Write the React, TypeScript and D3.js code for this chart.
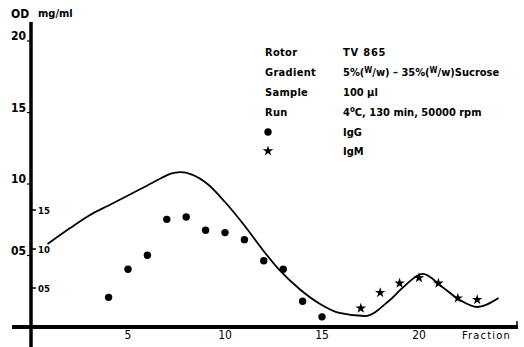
import React from 'react';
import * as d3 from 'd3';

// OD curve (fraction, OD)
const curveFractions = [0.85, 2.0, 3.0, 4.0, 5.0, 6.0, 6.7, 7.2, 7.7, 8.3, 9.1, 10, 10.9, 12.0, 12.8, 13.9, 14.9, 15.9, 17.2, 18.5, 19.2, 20.2, 21.2, 22.1, 23.0, 24.1];
const curveOD = [0.58, 0.69, 0.78, 0.85, 0.92, 0.99, 1.04, 1.072, 1.083, 1.066, 1.0, 0.874, 0.727, 0.53, 0.399, 0.259, 0.161, 0.098, 0.077, 0.189, 0.28, 0.371, 0.28, 0.189, 0.14, 0.203];

// IgG (dots), mg/ml
const iggFractions = [4, 5, 6, 7, 8, 9, 10, 11, 12, 13, 14, 15];
const iggValues = [0.038, 0.074, 0.092, 0.138, 0.141, 0.124, 0.121, 0.112, 0.085, 0.074, 0.033, 0.013];

// IgM (stars), mg/ml
const igmFractions = [17, 18, 19, 20, 21, 22, 23];
const igmValues = [0.024, 0.044, 0.056, 0.063, 0.056, 0.037, 0.035];

const xTicks = [5, 10, 15, 20];
const odTicks = [0.5, 1.0, 1.5, 2.0];
const odTickLabels = ['05', '10', '15', '20'];
const mgTicks = [0.05, 0.1, 0.15];
const mgTickLabels = ['05', '10', '15'];

const legendKeys = ['Rotor', 'Gradient', 'Sample', 'Run'];

const W = 524;
const H = 347;
const FONT = '"DejaVu Sans Condensed", "Liberation Sans Narrow", "DejaVu Sans", sans-serif';

export default function App() {
  const x = d3.scaleLinear().domain([0, 25]).range([31, 516]);
  const yOD = d3.scaleLinear().domain([0, 2]).range([327, 41]);
  const yMg = d3.scaleLinear().domain([0, 0.15]).range([327, 210]);

  const curvePts: [number, number][] = curveFractions.map((f, i) => [x(f), yOD(curveOD[i])]);
  const line = d3.line().curve(d3.curveMonotoneX);
  const star = d3.symbol().type(d3.symbolStar).size(34)();

  return (
    <svg width={W} height={H} style={{ position: 'absolute', left: 0, top: 0, background: '#fff' }}
      fontFamily={FONT}>
      {/* axes */}
      <line x1={12} x2={518} y1={327} y2={327} stroke="#000" strokeWidth={4} />
      <line x1={517} x2={517} y1={321} y2={327} stroke="#000" strokeWidth={1.5} />
      <line x1={31} x2={31} y1={22} y2={347} stroke="#000" strokeWidth={3.5} />

      {/* OD ticks (left) */}
      {odTicks.map((t, i) => (
        <g key={`od${t}`}>
          <line x1={27} x2={31} y1={yOD(t)} y2={yOD(t)} stroke="#000" strokeWidth={1.2} />
          <text x={26} y={yOD(t) - 1} textAnchor="end" fontSize={12} fontWeight="bold" fill="#000">
            {odTickLabels[i]}
          </text>
        </g>
      ))}
      {/* mg/ml ticks (right of axis) */}
      {mgTicks.map((t, i) => (
        <g key={`mg${t}`}>
          <line x1={31} x2={36} y1={yMg(t)} y2={yMg(t)} stroke="#000" strokeWidth={1.5} />
          <text x={38} y={yMg(t) + 3.5} fontSize={9.5} fontWeight="bold" fill="#000">
            {mgTickLabels[i]}
          </text>
        </g>
      ))}
      <text x={11} y={18} fontSize={12} fontWeight="bold" fill="#000">OD</text>
      <text x={38} y={17} fontSize={11} fontWeight="bold" fill="#000">mg/ml</text>

      {/* x tick labels */}
      {xTicks.map(t => (
        <text key={`x${t}`} x={x(t)} y={339} textAnchor="middle" fontSize={12} fill="#000">{t}</text>
      ))}
      <text x={462} y={339} fontSize={11} letterSpacing={1.2} fill="#000">Fraction</text>

      {/* OD curve */}
      <path d={line(curvePts) || ''} fill="none" stroke="#000" strokeWidth={1.8} />

      {/* IgG */}
      {iggFractions.map((f, i) => (
        <circle key={`g${f}`} cx={x(f)} cy={yMg(iggValues[i])} r={3.7} fill="#000" />
      ))}
      {/* IgM */}
      {igmFractions.map((f, i) => (
        <path key={`m${f}`} d={star || ''} transform={`translate(${x(f)},${yMg(igmValues[i])})`} fill="#000" />
      ))}

      {/* legend / run conditions */}
      {legendKeys.map((k, i) => (
        <text key={k} x={265} y={56 + i * 20} fontSize={11} fontWeight="bold" letterSpacing={0.3} fill="#000">{k}</text>
      ))}
      <text x={343} y={56} fontSize={11} fontWeight="bold" letterSpacing={0.8} fill="#000">TV 865</text>
      <text x={343} y={76} fontSize={11} fontWeight="bold" fill="#000">
        5%(<tspan fontSize={8} dy={-3}>W</tspan><tspan dy={3}>/w) – 35%(</tspan>
        <tspan fontSize={8} dy={-3}>W</tspan><tspan dy={3}>/w)Sucrose</tspan>
      </text>
      <text x={343} y={96} fontSize={11} fontWeight="bold" fill="#000">100 µl</text>
      <text x={343} y={116} fontSize={11} fontWeight="bold" fill="#000">
        4<tspan fontSize={8} dy={-4}>o</tspan><tspan dy={4}>C, 130 min, 50000 rpm</tspan>
      </text>
      <circle cx={268} cy={132} r={3.7} fill="#000" />
      <text x={343} y={136} fontSize={11} fontWeight="bold" fill="#000">IgG</text>
      <path d={star || ''} transform="translate(268,151)" fill="#000" />
      <text x={343} y={155} fontSize={11} fontWeight="bold" fill="#000">IgM</text>
    </svg>
  );
}
